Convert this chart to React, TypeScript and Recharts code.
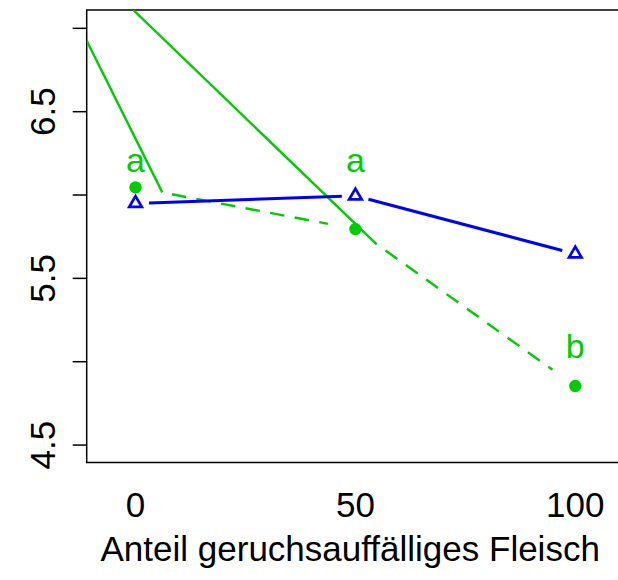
import React from 'react';
import { ComposedChart, Scatter, XAxis, YAxis, ReferenceArea } from 'recharts';

// ---- data ----
const doseLevels = [0, 50, 100];
const greenValues = [6.046, 5.796, 4.854];
const blueValues = [5.95, 5.995, 5.647];
const xTicks = [0, 50, 100];
const yTicks = [4.5, 5, 5.5, 6, 6.5, 7];
const yTickLabels = ['4.5', '', '5.5', '', '6.5', ''];
const letterTexts = ['a', 'a', 'b'];
const letterX = [0, 50, 100];
const letterY = [6.14, 6.14, 5.02];
const solidGreenAX = [-11.1, 6.09];
const solidGreenAY = [6.926, 6.016];
const solidGreenBX = [-0.5, 54.84];
const solidGreenBY = [7.11, 5.704];
const xDomain: [number, number] = [-11.1, 111.1];
const yDomain: [number, number] = [4.396, 7.11];
const xTitle = 'Anteil geruchsauffälliges Fleisch';

const GREEN = '#00CD00';
const BLUE = '#0000FF';
const FONT = 'Liberation Sans, Arial, Helvetica, sans-serif';

const toPts = (xs: number[], ys: number[]) => xs.map((x, i) => ({ x, y: ys[i] }));
const greenData = toPts(doseLevels, greenValues);
const blueData = toPts(doseLevels, blueValues);
const lineAData = toPts(solidGreenAX, solidGreenAY);
const lineBData = toPts(solidGreenBX, solidGreenBY);
const letterData = letterX.map((x, i) => ({ x, y: letterY[i], t: letterTexts[i] }));

function GappedLine(props: any) {
  const { points, stroke, strokeWidth, gapStart, gapEnd, dash } = props;
  if (!points || points.length < 2) return <g />;
  const segs: any[] = [];
  for (let i = 0; i < points.length - 1; i++) {
    const a = points[i];
    const b = points[i + 1];
    const dx = b.x - a.x;
    const dy = b.y - a.y;
    const len = Math.hypot(dx, dy);
    if (!len) continue;
    const ux = dx / len;
    const uy = dy / len;
    segs.push(
      <line
        key={i}
        x1={a.x + ux * gapStart}
        y1={a.y + uy * gapStart}
        x2={b.x - ux * gapEnd}
        y2={b.y - uy * gapEnd}
        stroke={stroke}
        strokeWidth={strokeWidth}
        strokeDasharray={dash}
        fill="none"
      />
    );
  }
  return <g>{segs}</g>;
}

const Empty = () => <g />;

const GreenDot = (p: any) => <circle cx={p.cx} cy={p.cy} r={6.2} fill={GREEN} />;

const BlueTri = (p: any) => {
  const { cx, cy } = p;
  const d = `M${cx},${cy - 7.2} L${cx + 6.3},${cy + 3.6} L${cx - 6.3},${cy + 3.6} Z`;
  return <path d={d} fill="none" stroke={BLUE} strokeWidth={2.7} strokeLinejoin="miter" />;
};

const Letter = (p: any) => (
  <text x={p.cx} y={p.cy} textAnchor="middle" fontSize={34} fontFamily={FONT} fill={GREEN}>
    {p.payload?.t}
  </text>
);

const XTick = (p: any) => (
  <text x={p.x} y={p.y + 54.3} textAnchor="middle" fontSize={35} fontFamily={FONT} fill="#000">
    {p.payload.value}
  </text>
);

const YTick = (p: any) => {
  const idx = yTicks.indexOf(p.payload.value);
  const label = idx >= 0 ? yTickLabels[idx] : '';
  if (!label) return <g />;
  return (
    <text
      transform={`translate(${p.x - 17.7},${p.y}) rotate(-90)`}
      textAnchor="middle"
      fontSize={35}
      fontFamily={FONT}
      fill="#000"
    >
      {label}
    </text>
  );
};

const TitleLabel = (p: any) => {
  const vb = p.viewBox || {};
  return (
    <text x={vb.x + 263.5} y={561} textAnchor="middle" fontSize={35} fontFamily={FONT} fill="#000">
      {xTitle}
    </text>
  );
};

export default function App() {
  return (
    <div
      style={{
        position: 'absolute',
        left: 0,
        top: 0,
        width: 618,
        height: 580,
        overflow: 'hidden',
        background: '#fff',
      }}
    >
      <ComposedChart width={640} height={580} margin={{ top: 10, right: 15.9, bottom: 0, left: 0 }}>
        <XAxis
          type="number"
          dataKey="x"
          domain={xDomain}
          ticks={xTicks}
          allowDataOverflow
          height={117.6}
          axisLine={false}
          tickLine={false}
          tickSize={0}
          tickMargin={0}
          tick={XTick}
          interval={0}
          label={{ content: TitleLabel }}
        />
        <YAxis
          type="number"
          dataKey="y"
          domain={yDomain}
          ticks={yTicks}
          allowDataOverflow
          width={86.7}
          axisLine={false}
          tickLine={{ stroke: '#000', strokeWidth: 1.5 }}
          tickSize={14}
          tickMargin={0}
          tick={YTick}
          interval={0}
        />
        <ReferenceArea
          x1={xDomain[0]}
          x2={xDomain[1]}
          y1={yDomain[0]}
          y2={yDomain[1]}
          fill="none"
          stroke="#000"
          strokeWidth={1.5}
          ifOverflow="visible"
        />
        <Scatter
          data={lineAData}
          isAnimationActive={false}
          shape={Empty}
          line={(lp: any) => (
            <GappedLine points={lp.points} stroke={GREEN} strokeWidth={2.4} gapStart={0} gapEnd={0} />
          )}
          lineType="joint"
        />
        <Scatter
          data={lineBData}
          isAnimationActive={false}
          shape={Empty}
          line={(lp: any) => (
            <GappedLine points={lp.points} stroke={GREEN} strokeWidth={2.4} gapStart={0} gapEnd={0} />
          )}
          lineType="joint"
        />
        <Scatter
          data={greenData}
          isAnimationActive={false}
          shape={GreenDot}
          line={(lp: any) => (
            <GappedLine
              points={lp.points}
              stroke={GREEN}
              strokeWidth={2.4}
              gapStart={37}
              gapEnd={28}
              dash="14.5 10.5"
            />
          )}
          lineType="joint"
        />
        <Scatter
          data={blueData}
          isAnimationActive={false}
          shape={BlueTri}
          line={(lp: any) => (
            <GappedLine points={lp.points} stroke={BLUE} strokeWidth={3} gapStart={13.5} gapEnd={13.5} />
          )}
          lineType="joint"
        />
        <Scatter data={letterData} isAnimationActive={false} shape={Letter} />
      </ComposedChart>
    </div>
  );
}
